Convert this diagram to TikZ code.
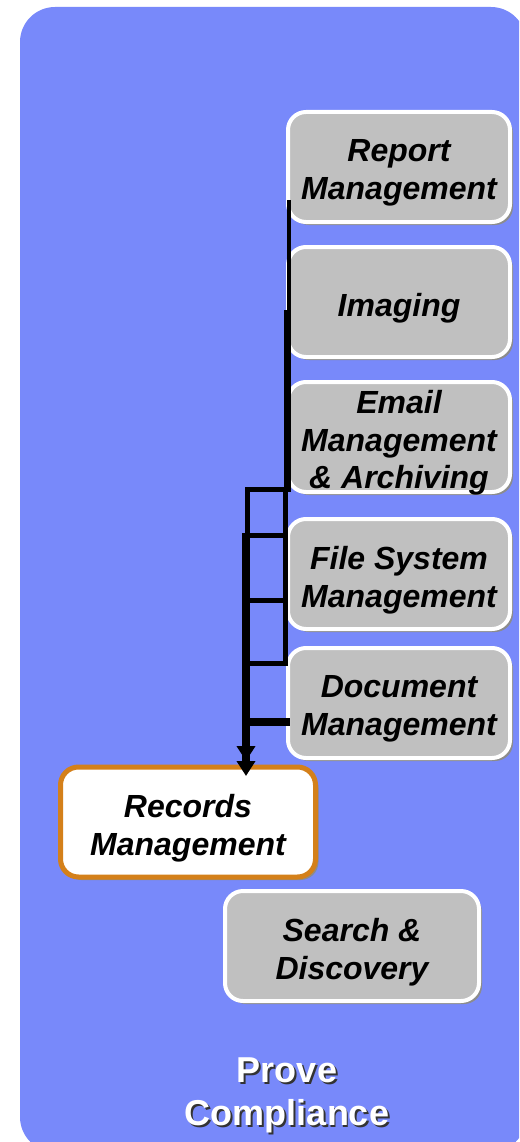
\documentclass[tikz,border=0pt]{standalone}
\usepackage{fontspec}
\setmainfont{Liberation Sans}
\usetikzlibrary{arrows.meta,shadows}
\definecolor{bgblue}{HTML}{7889FA}
\definecolor{boxgray}{HTML}{C0C0C0}
\definecolor{recorange}{HTML}{D4801A}
\begin{document}
\begin{tikzpicture}[x=1pt,y=-1pt,
  boxtext/.style={font=\fontsize{32}{37.5}\selectfont\bfseries\itshape, align=center, text=black, yshift=-6pt, inner sep=0pt},
  gbox/.style={draw=white, line width=4pt, fill=boxgray, rounded corners=18pt,
    minimum width=222pt, minimum height=110pt, inner sep=0pt,
    drop shadow={shadow xshift=3pt, shadow yshift=-3pt, fill=black!45, opacity=1}},
  rbox/.style={gbox, draw=recorange, line width=5pt, fill=white, minimum width=255pt},
  thinln/.style={line width=4pt},
  rung/.style={line width=5pt},
  thickln/.style={line width=7.5pt},
  title/.style={font=\fontsize{36}{43}\selectfont\bfseries, align=center}]
\useasboundingbox (0,0) rectangle (519,1142);
\begin{scope}
\clip (0,0) rectangle (519,1142);
\fill[bgblue, rounded corners=35pt] (20,7) rectangle (526,1152);
\end{scope}
% boxes
\node[gbox, label={[boxtext]center:Report\\Management}] (report) at (399,167) {};
\node[gbox, label={[boxtext]center:Imaging}] (imaging) at (399,302) {};
\node[gbox, label={[boxtext]center:Email\\Management\\\& Archiving}] (email) at (399,437) {};
\node[gbox, label={[boxtext]center:File System\\Management}] (filesys) at (399,574) {};
\node[gbox, label={[boxtext]center:Document\\Management}] (document) at (399,703) {};
\node[rbox, label={[boxtext]center:Records\\Management}] (records) at (188,822) {};
\node[gbox, minimum width=254pt, label={[boxtext]center:Search \&\\Discovery}] (search) at (352,946) {};
% title
\node[title, text=black!80] (titleshadow) at (289,1097) {Prove\\Compliance};
\node[title, text=white] (titletext) at (287,1095) {Prove\\Compliance};
% connector coordinates
\coordinate (a0) at (288.5,200);
\coordinate (a1) at (288.5,312);
\coordinate (b0) at (287.5,310);
\coordinate (b1) at (287.5,491);
\coordinate (h0) at (245,489);
\coordinate (h1) at (291,489);
\coordinate (l0) at (247.5,487);
\coordinate (l1) at (247.5,537);
\coordinate (r0) at (285.5,489);
\coordinate (r1) at (285.5,666);
\coordinate (m1) at (245,535);
\coordinate (m2) at (245,600);
\coordinate (m3) at (245,663);
\coordinate (k0) at (246,533);
\coordinate (k1) at (246,776);
\coordinate (d0) at (244,722);
\coordinate (d1) at (290,722);
% ladder connectors
\draw[thinln] (a0) -- (a1);
\draw[thickln] (b0) -- (b1);
\draw[rung] (h0) -- (h1);
\draw[rung] (l0) -- (l1);
\draw[rung] (r0) -- (r1);
\draw[rung] (m1) -- (m1 -| r0);
\draw[rung] (m2) -- (m2 -| r0);
\draw[rung] (m3) -- (m3 -| r0);
\draw[thickln] (d0) -- (d1);
\draw[thickln, -{Triangle[length=15pt,width=18pt]Triangle[length=15pt,width=18pt]}] (k0) -- (k1);
\end{tikzpicture}
\end{document}
